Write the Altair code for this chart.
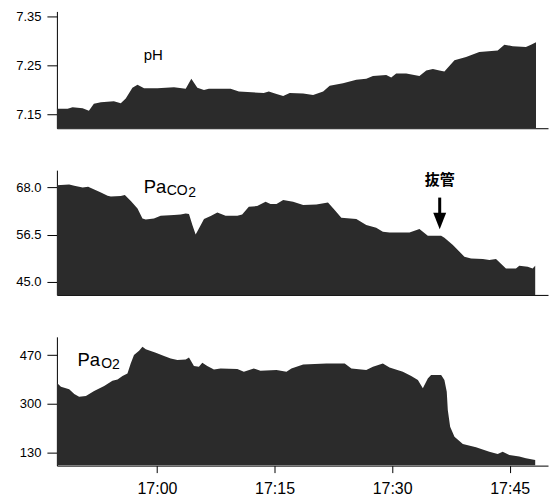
import altair as alt
import pandas as pd

# Time axis: minutes after 17:00
ph_t = [-12.77, -11.39, -10.76, -9.48, -8.68, -8.05, -7.15, -5.50, -4.61, -3.97, -3.12, -2.48,
        -1.64, 0.06, 2.18, 3.67, 4.39, 5.16, 6.00, 6.63, 9.40, 10.45, 13.63, 14.27, 15.25,
        16.10, 16.94, 18.65, 19.92, 21.20, 22.04, 23.74, 25.44, 26.71, 27.56, 29.25, 29.89,
        30.53, 31.80, 33.49, 34.35, 35.20, 36.04, 36.68, 37.95, 39.44, 41.13, 43.48, 44.32,
        45.39, 47.08, 47.72, 48.35]
ph_v = [7.161, 7.161, 7.164, 7.162, 7.157, 7.171, 7.174, 7.176, 7.172, 7.182, 7.204, 7.210,
        7.203, 7.203, 7.205, 7.202, 7.222, 7.204, 7.199, 7.202, 7.202, 7.196, 7.193, 7.196, 7.191,
        7.187, 7.193, 7.192, 7.189, 7.196, 7.208, 7.213, 7.220, 7.222, 7.228, 7.230, 7.225,
        7.233, 7.233, 7.228, 7.239, 7.242, 7.239, 7.237, 7.260, 7.267, 7.277, 7.280, 7.292,
        7.289, 7.287, 7.292, 7.297]

paco2_t = [-12.77, -11.19, -10.55, -9.48, -8.77, -7.15, -6.30, -5.88, -4.61, -4.10, -3.33, -2.48,
           -1.85, -1.43, -0.37, 0.48, 2.18, 3.03, 3.67, 4.09, 4.52, 4.94, 5.36, 6.00, 6.85, 7.70,
           8.76, 10.25, 10.88, 11.73, 12.79, 13.85, 14.49, 15.25, 16.10, 17.38, 18.65, 20.34,
           21.83, 22.67, 23.53, 25.44, 26.71, 27.98, 28.83, 29.68, 32.22, 33.49, 34.56, 36.26,
           36.68, 37.75, 39.22, 40.08, 41.57, 42.41, 43.26, 44.53, 45.81, 46.23, 47.30, 47.93, 48.26]
paco2_v = [68.58, 68.73, 68.41, 68.00, 68.17, 66.78, 65.98, 65.81, 65.90, 66.15, 64.69, 62.88,
           60.45, 60.20, 60.45, 61.10, 61.27, 61.42, 61.66, 61.52, 58.84, 56.55, 58.01, 60.30, 61.03, 61.91,
           61.10, 61.10, 61.42, 63.30, 63.47, 64.52, 63.96, 63.96, 64.93, 64.52, 63.71, 63.86,
           64.35, 62.49, 60.62, 60.30, 58.84, 58.18, 57.21, 57.04, 57.04, 57.86, 56.23, 56.23,
           55.74, 53.96, 51.11, 50.70, 50.55, 50.31, 50.55, 48.26, 48.26, 48.92, 48.68, 48.26, 48.92]

pao2_t = [-12.77, -12.25, -11.19, -10.55, -9.92, -9.06, -8.01, -6.73, -5.67, -5.03, -4.39, -3.76,
          -3.34, -2.92, -2.28, -1.85, -1.43, -0.15, 0.90, 1.76, 2.61, 3.67, 4.09, 4.72, 5.36, 5.79,
          6.43, 7.27, 8.12, 10.25, 11.09, 12.36, 13.21, 15.25, 16.52, 17.16, 18.65, 21.62, 23.95,
          24.80, 26.71, 27.56, 28.83, 29.68, 31.38, 32.44, 33.29, 33.93, 34.56, 34.98, 36.26,
          36.68, 36.98, 37.11, 37.40, 37.95, 39.02, 40.71, 42.41, 43.48, 44.11, 44.95, 46.23,
          47.08, 48.26]
pao2_v = [373.2, 359.2, 350.2, 333.7, 324.3, 326.7, 344.2, 361.7, 380.2, 385.1, 396.6, 406.1,
          441.0, 470.0, 485.0, 499.0, 491.0, 478.0, 466.5, 458.5, 452.5, 455.0, 462.0, 431.6, 429.1, 443.1,
          431.6, 420.0, 423.5, 421.1, 411.7, 423.5, 415.1, 417.6, 411.7, 423.5, 437.5, 441.0, 441.0,
          423.5, 417.6, 429.1, 441.0, 427.0, 411.7, 396.6, 382.7, 353.7, 388.6, 400.1, 400.1,
          382.7, 341.8, 277.8, 219.5, 184.5, 159.0, 147.5, 132.1, 124.1, 132.1, 120.6, 114.7,
          109.1, 103.1]

x_tick_labels = ["17:00", "17:15", "17:30", "17:45"]
ph_ticks = [7.15, 7.25, 7.35]
paco2_ticks = [45.0, 56.5, 68.0]
pao2_ticks = [130, 300, 470]

FILL = "#2b2b2b"
BASE = pd.Timestamp("2024-01-01 17:00:00")


def to_iso(mins):
    ts = BASE + pd.to_timedelta(pd.Series(mins), unit="m")
    return ts.dt.strftime("%Y-%m-%dT%H:%M:%SZ")


def dt(h, m, s=0):
    return alt.DateTime(year=2024, month=1, date=1, hours=h, minutes=m, seconds=s, utc=True)


x_domain = [dt(16, 47, 14), dt(17, 49, 53)]
x_values = [dt(int(l.split(":")[0]), int(l.split(":")[1])) for l in x_tick_labels]

W = 492


def panel(t, v, ticks, fmt, domain, height, bottom=False):
    df = pd.DataFrame({"time": to_iso(t), "value": v})
    if bottom:
        xaxis = alt.Axis(title=None, format="%H:%M", values=x_values, tickSize=7,
                         labelFontSize=16, labelPadding=8, grid=False)
    else:
        xaxis = alt.Axis(title=None, labels=False, ticks=False, grid=False)
    area = alt.Chart(df).mark_area(color=FILL, clip=True, interpolate="linear").encode(
        x=alt.X("time:T", scale=alt.Scale(type="utc", domain=x_domain), axis=xaxis),
        y=alt.Y("value:Q", scale=alt.Scale(domain=domain, zero=False, nice=False),
                axis=alt.Axis(title=None, values=ticks, format=fmt, grid=False,
                              tickSize=10, labelPadding=6, labelFontSize=13)),
        y2=alt.datum(domain[0]),
    )
    return area, height


def txt(s, x, y, size, bold=False, font="Liberation Sans", align="left", baseline="alphabetic"):
    return alt.Chart(pd.DataFrame({"label": [s]})).mark_text(
        align=align, baseline=baseline, fontSize=size, font=font,
        fontWeight="bold" if bold else "normal", color="black"
    ).encode(x=alt.value(x), y=alt.value(y), text="label:N")


a1, h1 = panel(ph_t, ph_v, ph_ticks, ".2f", [7.121, 7.360], 117)
a2, h2 = panel(paco2_t, paco2_v, paco2_ticks, ".1f", [41.78, 72.24], 125)
a3, h3 = panel(pao2_t, pao2_v, pao2_ticks, "d", [83.2, 534.0], 129, bottom=True)

p1 = alt.layer(a1, txt("pH", 87, 49, 15)).properties(width=W, height=h1)

arrow_shaft = alt.Chart(pd.DataFrame({"a": [0]})).mark_rule(color="black", strokeWidth=3).encode(
    x=alt.value(383.5), y=alt.value(27.5), y2=alt.value(45))
arrow_head = alt.Chart(pd.DataFrame({"a": [0]})).mark_point(
    shape="M-0.78,-1L0.78,-1L0,1Z", filled=True, color="black", opacity=1, size=276, strokeWidth=0
).encode(x=alt.value(383.5), y=alt.value(51))

p2 = alt.layer(
    a2,
    txt("Pa", 87, 22.7, 18.5),
    txt("CO", 110, 25, 14),
    txt("2", 131.5, 27, 14),
    txt("抜管", 383.5, 10, 15, bold=True, font="Noto Sans CJK JP", align="center", baseline="middle"),
    arrow_shaft,
    arrow_head,
).properties(width=W, height=h2)

p3 = alt.layer(
    a3,
    txt("Pa", 20.7, 29, 18.5),
    txt("O", 44.5, 31.7, 14),
    txt("2", 55.3, 32.3, 14),
).properties(width=W, height=h3)

chart = alt.vconcat(p1, p2, p3, spacing=42).resolve_scale(y="independent").properties(
    padding={"left": 15, "top": 9, "right": 4, "bottom": 4}
).configure_view(stroke=None).configure_axis(
    domainColor="black", domainWidth=1, tickColor="black", tickWidth=1,
    labelColor="black", labelFont="Liberation Sans"
)

chart.save("out.html", embed_options={"renderer": "svg", "actions": False})
